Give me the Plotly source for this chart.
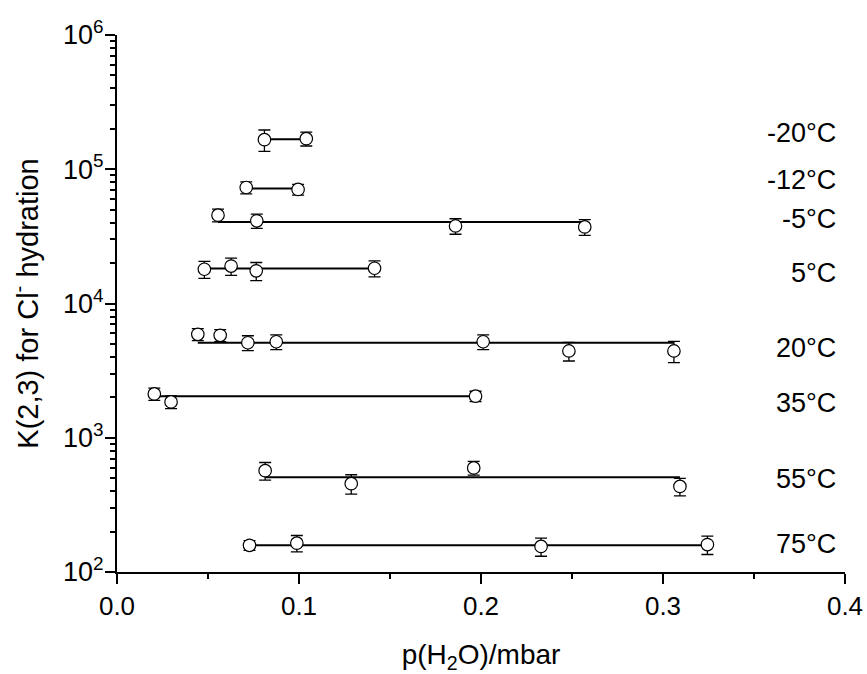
import math
import plotly.graph_objects as go

# ---- data ----
temps = ["-20°C", "-12°C", "-5°C", "5°C", "20°C", "35°C", "55°C", "75°C"]

p_m20 = [0.081, 0.104]
k_m20 = [166000, 169000]
e_m20 = [30000, 20000]
fit_m20 = 167000

p_m12 = [0.071, 0.0995]
k_m12 = [73100, 70700]
e_m12 = [7500, 6500]
fit_m12 = 72000

p_m5 = [0.0555, 0.0768, 0.186, 0.257]
k_m5 = [45500, 41300, 37800, 37200]
e_m5 = [5000, 5000, 5000, 5000]
fit_m5 = 40500

p_5 = [0.048, 0.0627, 0.0765, 0.1415]
k_5 = [18000, 19000, 17500, 18300]
e_5 = [2600, 2800, 2700, 2500]
fit_5 = 18200

p_20 = [0.0444, 0.0567, 0.0719, 0.0875, 0.2012, 0.2483, 0.306]
k_20 = [5890, 5790, 5100, 5190, 5190, 4430, 4430]
e_20 = [600, 600, 650, 650, 650, 700, 800]
fit_20 = 5100

p_35 = [0.0205, 0.0297, 0.197]
k_35 = [2120, 1850, 2040]
e_35 = [220, 200, 180]
fit_35 = 2040

p_55 = [0.0814, 0.1287, 0.196, 0.3093]
k_55 = [569, 455, 596, 434]
e_55 = [85, 75, 70, 65]
fit_55 = 507

p_75 = [0.0728, 0.0988, 0.233, 0.3244]
k_75 = [158, 164, 155, 160]
e_75 = [13, 23, 24, 25]
fit_75 = 158

x_ticks = [0.0, 0.1, 0.2, 0.3, 0.4]
x_ticktext = ["0.0", "0.1", "0.2", "0.3", "0.4"]
y_ticks = [1e2, 1e3, 1e4, 1e5, 1e6]
y_ticktext = ["10<sup>2</sup>", "10<sup>3</sup>", "10<sup>4</sup>", "10<sup>5</sup>", "10<sup>6</sup>"]

series = [
    (p_m20, k_m20, e_m20, fit_m20),
    (p_m12, k_m12, e_m12, fit_m12),
    (p_m5, k_m5, e_m5, fit_m5),
    (p_5, k_5, e_5, fit_5),
    (p_20, k_20, e_20, fit_20),
    (p_35, k_35, e_35, fit_35),
    (p_55, k_55, e_55, fit_55),
    (p_75, k_75, e_75, fit_75),
]

# label vertical nudges in px (layout only)
label_shift = [6, 8, 3, -4, -5, -7, -2, 1]

FONT = "Liberation Sans, Arial, sans-serif"

fig = go.Figure()
for (p, k, e, fit) in series:
    fig.add_trace(go.Scatter(
        x=[min(p), max(p)], y=[fit, fit], mode="lines",
        line=dict(color="black", width=2), showlegend=False, hoverinfo="skip"))
for (p, k, e, fit) in series:
    fig.add_trace(go.Scatter(
        x=p, y=k, mode="markers",
        marker=dict(symbol="circle", size=12.5, color="white",
                    line=dict(color="black", width=1.2)),
        error_y=dict(type="data", array=e, symmetric=True, color="black",
                     thickness=1.3, width=6),
        showlegend=False))

for t, (p, k, e, fit), sh in zip(temps, series, label_shift):
    fig.add_annotation(x=0.99, xref="paper", y=math.log10(fit), yref="y",
                       text=t, showarrow=False, xanchor="right", yanchor="middle",
                       yshift=sh, font=dict(family=FONT, size=27, color="black"))

fig.update_layout(
    width=867, height=674,
    margin=dict(l=117, r=22, t=35, b=102),
    paper_bgcolor="white", plot_bgcolor="white",
    font=dict(family=FONT, size=26, color="black"),
    showlegend=False,
)
fig.update_xaxes(
    range=[0, 0.4], tickvals=x_ticks, ticktext=x_ticktext,
    showline=True, linecolor="black", linewidth=2, mirror=False,
    ticks="outside", ticklen=10, tickwidth=2, tickcolor="black",
    showgrid=False, zeroline=False, automargin=False,
    minor=dict(ticks="outside", ticklen=5, tickwidth=2, tickcolor="black",
               dtick=0.05, showgrid=False),
    title=dict(text="p(H<sub>2</sub>O)/mbar", standoff=26,
               font=dict(family=FONT, size=28)),
    tickfont=dict(family=FONT, size=26),
)
fig.update_yaxes(
    type="log", range=[2, 6], tickvals=y_ticks, ticktext=y_ticktext,
    showline=True, linecolor="black", linewidth=2, mirror=False,
    ticks="outside", ticklen=10, tickwidth=2, tickcolor="black",
    showgrid=False, zeroline=False, automargin=False,
    ticklabelstandoff=-4,
    minor=dict(ticks="outside", ticklen=5, tickwidth=1.5, tickcolor="black",
               dtick="D1", showgrid=False),
    title=dict(text="K(2,3) for Cl<sup>-</sup> hydration", standoff=16,
               font=dict(family=FONT, size=29)),
    tickfont=dict(family=FONT, size=27),
)

fig.write_html("out.html", config={"displayModeBar": False},
               post_script="document.body.style.margin='0px';document.body.style.overflow='hidden';")
